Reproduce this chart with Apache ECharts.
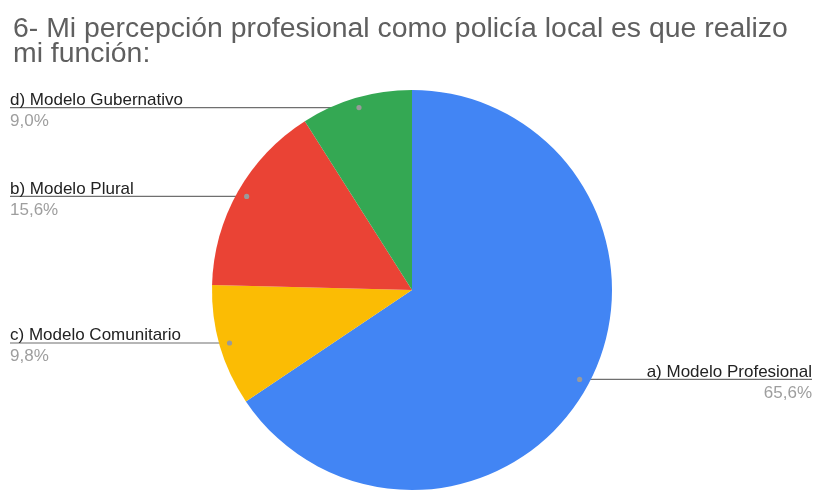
<!DOCTYPE html>
<html>
<head>
<meta charset="utf-8">
<script src="https://cdn.jsdelivr.net/npm/echarts@6/dist/echarts.min.js"></script>
<style>
html,body{margin:0;padding:0;background:#fff;}
#chart{width:815px;height:490px;}
</style>
</head>
<body>
<div id="chart"></div>
<script>
const titleText = '6- Mi percepción profesional como policía local es que realizo\nmi función:';
const categories = ['a) Modelo Profesional', 'c) Modelo Comunitario', 'b) Modelo Plural', 'd) Modelo Gubernativo'];
const values = [65.6, 9.8, 15.6, 9.0];
const percentLabels = ['65,6%', '9,8%', '15,6%', '9,0%'];
const colors = ['#4285f4', '#fbbc04', '#ea4335', '#34a853'];

const CX = 412, CY = 290, R = 200, DOT_R = 190;
const LEFT_EDGE = 10, RIGHT_EDGE = 812;
const total = values.reduce((a, b) => a + b, 0);

function anchor(i) {
  let before = 0;
  for (let k = 0; k < i; k++) before += values[k];
  const mid = (before + values[i] / 2) / total * Math.PI * 2;
  return [CX + DOT_R * Math.sin(mid), CY - DOT_R * Math.cos(mid), Math.sin(mid) > 0];
}

const chart = echarts.init(document.getElementById('chart'), null, {renderer: 'canvas'});
const font = '"Liberation Sans", Arial, sans-serif';

const dots = values.map((v, i) => {
  const a = anchor(i);
  return {type: 'circle', z: 100, shape: {cx: a[0], cy: a[1], r: 2.6}, style: {fill: '#9a9a9a'}, silent: true};
});

chart.setOption({
  backgroundColor: '#ffffff',
  animation: false,
  title: {
    text: titleText,
    left: 8, top: 12,
    textStyle: {fontFamily: font, fontSize: 28.4, fontWeight: 'normal', color: '#5f5f5f', lineHeight: 25}
  },
  graphic: dots,
  series: [{
    type: 'pie',
    center: [CX, CY],
    radius: R,
    startAngle: 90,
    clockwise: true,
    avoidLabelOverlap: false,
    data: categories.map((c, i) => ({name: c, value: values[i], itemStyle: {color: colors[i]}})),
    itemStyle: {borderWidth: 0},
    emphasis: {disabled: true},
    label: {
      show: true,
      position: 'outside',
      fontFamily: font,
      formatter: p => '{n|' + p.name + '}\n{p|' + percentLabels[p.dataIndex] + '}',
      rich: {
        n: {fontFamily: font, fontSize: 17, color: '#222222', lineHeight: 21},
        p: {fontFamily: font, fontSize: 17, color: '#9e9e9e', lineHeight: 21}
      }
    },
    labelLine: {show: true, length: 5, length2: 5, lineStyle: {color: '#6f6f6f', width: 1.2}},
    labelLayout: function (params) {
      const a = anchor(params.dataIndex);
      const right = a[2];
      const ex = right ? RIGHT_EDGE : LEFT_EDGE;
      return {
        x: ex,
        y: a[1] + 3,
        align: right ? 'right' : 'left',
        verticalAlign: 'middle',
        labelLinePoints: [[a[0], a[1]], [(a[0] + ex) / 2, a[1]], [ex, a[1]]]
      };
    }
  }]
});
</script>
</body>
</html>
